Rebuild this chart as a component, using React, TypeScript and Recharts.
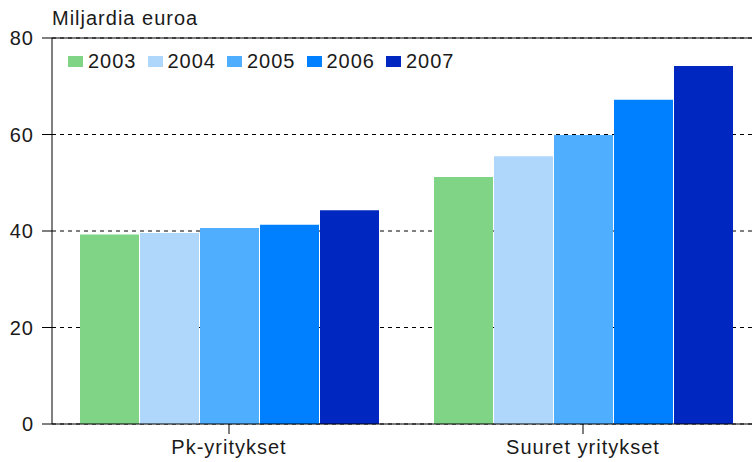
import React from 'react';
import { BarChart, Bar, XAxis, YAxis, CartesianGrid, ReferenceLine, Legend } from 'recharts';

const categories = ['Pk-yritykset', 'Suuret yritykset'];
const years = ['2003', '2004', '2005', '2006', '2007'];
const values2003 = [39.3, 51.2];
const values2004 = [39.6, 55.5];
const values2005 = [40.6, 59.9];
const values2006 = [41.3, 67.2];
const values2007 = [44.3, 74.2];
const yTicks = [0, 20, 40, 60, 80];
const colors = ['#80d485', '#afd7fb', '#50aefe', '#0080ff', '#0027bf'];

const seriesValues = [values2003, values2004, values2005, values2006, values2007];

const data = categories.map((name, i) => {
  const row: Record<string, string | number> = { name };
  years.forEach((y, j) => {
    row[y] = seriesValues[j][i];
  });
  return row;
});

const FONT = 'Arial, "Liberation Sans", sans-serif';
const textStyle = { fontFamily: FONT, fontSize: 20, letterSpacing: 1, fill: '#1a1a1a' };

const renderLegend = (props: any) => {
  const { payload } = props;
  return (
    <div style={{ display: 'flex', fontFamily: FONT, fontSize: 20, letterSpacing: 1, color: '#1a1a1a' }}>
      {payload.map((entry: any) => (
        <div key={entry.value} style={{ display: 'flex', alignItems: 'center', marginRight: 11 }}>
          <span style={{ display: 'inline-block', width: 15, height: 11, background: entry.color, marginRight: 5 }} />
          <span>{entry.value}</span>
        </div>
      ))}
    </div>
  );
};

export default function App() {
  return (
    <div style={{ position: 'absolute', left: 0, top: 0, width: 752, height: 462, overflow: 'hidden', background: '#fff' }}>
      <div style={{ position: 'absolute', left: 52, top: 7, fontFamily: FONT, fontSize: 20, letterSpacing: 1, color: '#1a1a1a' }}>
        Miljardia euroa
      </div>
      <BarChart
        width={760}
        height={462}
        data={data}
        margin={{ top: 38, right: 0, left: 0, bottom: 0 }}
        barCategoryGap={28}
        barGap={1}
      >
        <CartesianGrid horizontal vertical={false} stroke="#000" strokeDasharray="4 4" />
        <XAxis
          dataKey="name"
          height={38}
          tickSize={10}
          tickMargin={6}
          tick={textStyle}
          axisLine={{ stroke: '#000' }}
          tickLine={{ stroke: '#000' }}
        />
        <YAxis
          width={52}
          domain={[0, 80]}
          ticks={yTicks}
          tickSize={10}
          tickMargin={8}
          tick={textStyle}
          axisLine={{ stroke: '#000' }}
          tickLine={{ stroke: '#000' }}
        />
        <ReferenceLine y={80} stroke="#000" />
        <Legend
          layout="horizontal"
          verticalAlign="middle"
          align="center"
          content={renderLegend}
          wrapperStyle={{ position: 'absolute', top: 50, left: 68, width: 'auto' }}
        />
        {years.map((y, i) => (
          <Bar key={y} dataKey={y} name={y} fill={colors[i]} isAnimationActive={false} />
        ))}
      </BarChart>
    </div>
  );
}
